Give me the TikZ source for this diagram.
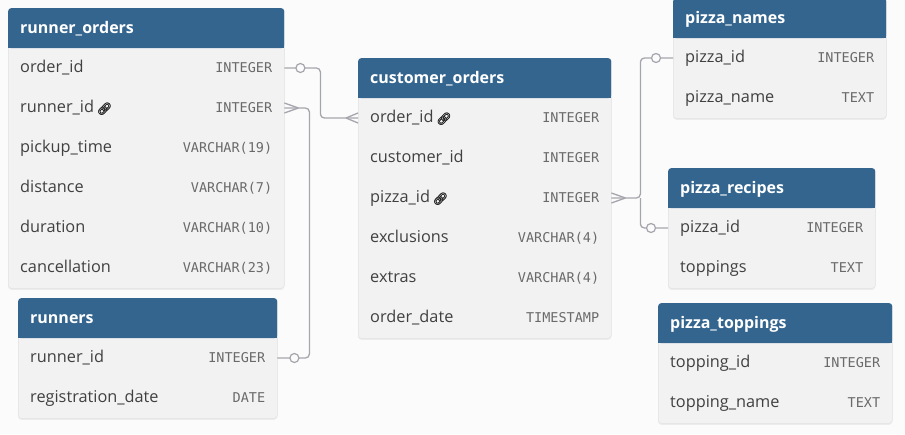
\documentclass[tikz,border=0pt]{standalone}
\usepackage{fontspec}
\setmainfont{Open Sans}
\newfontfamily\monofont{DejaVu Sans Mono}
\newfontfamily\emojifont[FakeBold=1.5]{Noto Emoji}
\usetikzlibrary{shadows}
\definecolor{hdr}{HTML}{33658F}
\definecolor{rowc}{HTML}{F2F2F2}
\definecolor{bgc}{HTML}{FBFBFB}
\definecolor{txt}{HTML}{404040}
\definecolor{typc}{HTML}{6A6A6A}
\definecolor{connc}{HTML}{A5A5AD}
\definecolor{edgec}{HTML}{E3E3E3}
\newcommand\lnk{\,{\color{black!85}\emojifont\fontsize{12}{12}\selectfont 🔗}}
\tikzset{
  tablebox/.style={rectangle, inner sep=0pt, fill=rowc, draw=edgec, line width=0.5pt,
    rounded corners=3pt, drop shadow={opacity=0.12, shadow xshift=0pt, shadow yshift=-1.5pt}},
  hdrbox/.style={rectangle, inner sep=0pt, fill=hdr, minimum height=40pt, rounded corners=3pt},
  ttl/.style={inner sep=0pt, text=white, font=\bfseries\fontsize{16}{19}\selectfont},
  rowbox/.style={rectangle, inner sep=0pt, minimum height=40pt},
  fld/.style={inner sep=0pt, text=txt, font=\fontsize{16.3}{19}\selectfont},
  typ/.style={inner sep=0pt, text=typc, font=\monofont\fontsize{13.5}{16}\selectfont},
  conn/.style={draw=connc, line width=1.3pt},
  circ/.style={circle, draw=connc, fill=bgc, line width=1.2pt, minimum size=9pt, inner sep=0pt},
}
% #1 name, #2 left, #3 top, #4 width, #5 rows, #6 title
\newcommand\erbox[6]{%
  \node[tablebox, minimum width=#4pt, minimum height={40pt*(#5+1)}, anchor=north west] (#1) at (#2,#3) {};
  \node[hdrbox, minimum width=#4pt, anchor=north west] (#1h) at (#2,#3) {};
  \fill[hdr] (#1h.west) rectangle (#1h.south east);
  \node[ttl, anchor=base west] (#1ht) at ([xshift=12pt, yshift=-5pt]#1h.west) {#6};
}
% #1 name, #2 left, #3 ycenter, #4 width, #5 field, #6 type
\newcommand\erfield[6]{%
  \node[rowbox, minimum width=#4pt, anchor=west] (#1) at (#2,#3) {};
  \node[fld, anchor=base west] (#1n) at ([xshift=12pt, yshift=-4.8pt]#1.west) {#5};
  \node[typ, anchor=base east] (#1t) at ([xshift=-12pt, yshift=-4.5pt]#1.east) {#6};
}
\begin{document}
\begin{tikzpicture}[x=1pt, y=-1pt]
\fill[bgc] (0,0) rectangle (905,434);
\useasboundingbox (0,0) rectangle (905,434);

% runner_orders
\erbox{ro}{8}{8}{276}{6}{runner\_orders}
\erfield{ro1}{8}{68}{276}{order\_id}{INTEGER}
\erfield{ro2}{8}{108}{276}{runner\_id\lnk}{INTEGER}
\erfield{ro3}{8}{148}{276}{pickup\_time}{VARCHAR(19)}
\erfield{ro4}{8}{188}{276}{distance}{VARCHAR(7)}
\erfield{ro5}{8}{228}{276}{duration}{VARCHAR(10)}
\erfield{ro6}{8}{268}{276}{cancellation}{VARCHAR(23)}

% runners
\erbox{rb}{18}{298}{259}{2}{runners}
\erfield{rb1}{18}{358}{259}{runner\_id}{INTEGER}
\erfield{rb2}{18}{398}{259}{registration\_date}{DATE}

% customer_orders
\erbox{co}{358}{58}{253}{6}{customer\_orders}
\erfield{co1}{358}{118}{253}{order\_id\lnk}{INTEGER}
\erfield{co2}{358}{158}{253}{customer\_id}{INTEGER}
\erfield{co3}{358}{198}{253}{pizza\_id\lnk}{INTEGER}
\erfield{co4}{358}{238}{253}{exclusions}{VARCHAR(4)}
\erfield{co5}{358}{278}{253}{extras}{VARCHAR(4)}
\erfield{co6}{358}{318}{253}{order\_date}{TIMESTAMP}

% pizza_names
\erbox{pn}{673}{-2}{213}{2}{pizza\_names}
\erfield{pn1}{673}{58}{213}{pizza\_id}{INTEGER}
\erfield{pn2}{673}{98}{213}{pizza\_name}{TEXT}

% pizza_recipes
\erbox{pr}{668}{168}{207}{2}{pizza\_recipes}
\erfield{pr1}{668}{228}{207}{pizza\_id}{INTEGER}
\erfield{pr2}{668}{268}{207}{toppings}{TEXT}

% pizza_toppings
\erbox{pt}{658}{303}{234}{2}{pizza\_toppings}
\erfield{pt1}{658}{363}{234}{topping\_id}{INTEGER}
\erfield{pt2}{658}{403}{234}{topping\_name}{TEXT}

% connector 1: runner_orders.order_id -> customer_orders.order_id
\draw[conn, rounded corners=4pt] (ro1.east) -- ([xshift=36pt]ro1.east) |- (co1.west);
\node[circ] (k1) at ([xshift=16pt]ro1.east) {};
\draw[conn] ([xshift=-12pt]co1.west) -- ([yshift=5pt]co1.west)
            ([xshift=-12pt]co1.west) -- ([yshift=-5pt]co1.west);

% connector 2: runner_orders.runner_id -> runners.runner_id
\draw[conn, rounded corners=4pt] (ro2.east) -- ([xshift=25pt]ro2.east) |- (rb1.east);
\node[circ] (k2) at ([xshift=17pt]rb1.east) {};
\draw[conn] ([xshift=14pt]ro2.east) -- ([yshift=5pt]ro2.east)
            ([xshift=14pt]ro2.east) -- ([yshift=-5pt]ro2.east);

% connector 3: customer_orders.pizza_id -> pizza_names / pizza_recipes
\coordinate (j3) at ([xshift=29pt]co3.east);
\draw[conn, rounded corners=4pt] (co3.east) -- (j3) |- (pn1.west);
\draw[conn, rounded corners=4pt] (j3) |- (pr1.west);
\node[circ] (k3) at ([xshift=-17pt]pn1.west) {};
\node[circ] (k4) at ([xshift=-17pt]pr1.west) {};
\draw[conn] ([xshift=14pt]co3.east) -- ([yshift=5pt]co3.east)
            ([xshift=14pt]co3.east) -- ([yshift=-5pt]co3.east);
\end{tikzpicture}
\end{document}
